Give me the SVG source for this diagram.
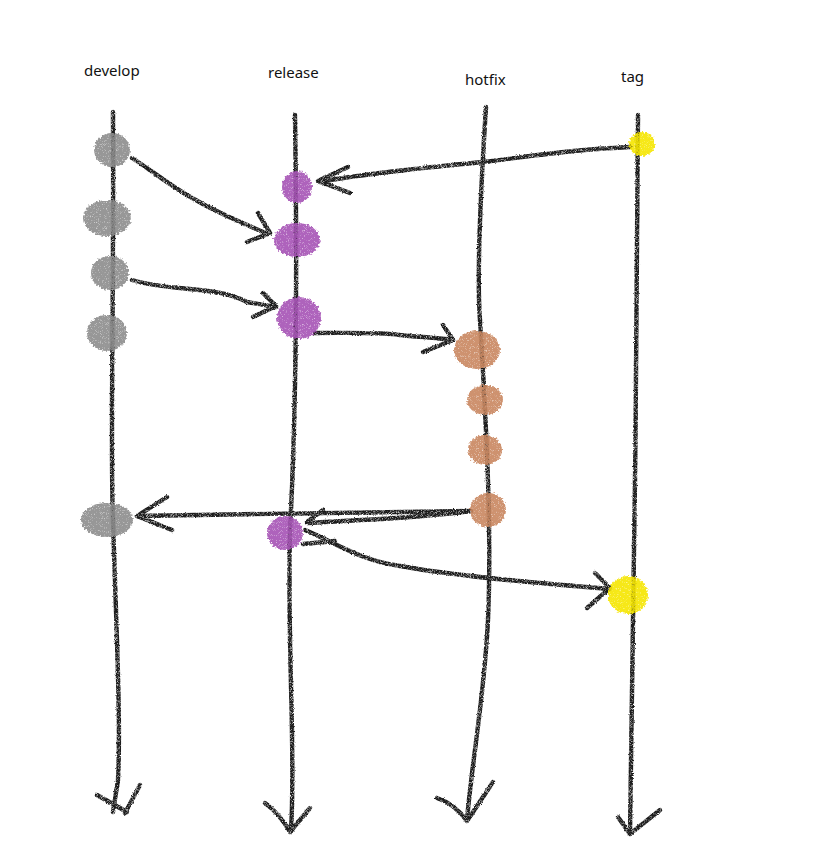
<svg xmlns="http://www.w3.org/2000/svg" width="828" height="863" viewBox="0 0 828 863">
<defs>
<filter id="crayon" filterUnits="userSpaceOnUse" x="0" y="0" width="828" height="863">
<feTurbulence type="fractalNoise" baseFrequency="1.1" numOctaves="1" seed="3" result="n"/>
<feDisplacementMap in="SourceGraphic" in2="n" scale="2.6" xChannelSelector="R" yChannelSelector="G" result="d"/>
<feTurbulence type="fractalNoise" baseFrequency="1.8" numOctaves="1" seed="5" result="g"/>
<feColorMatrix in="g" type="matrix" values="0 0 0 0 0  0 0 0 0 0  0 0 0 0 0  0 0 0 -2.4 2.1" result="ga"/>
<feComposite in="d" in2="ga" operator="in"/>
</filter>
<filter id="blob" filterUnits="userSpaceOnUse" x="0" y="0" width="828" height="863">
<feTurbulence type="fractalNoise" baseFrequency="0.5" numOctaves="2" seed="7" result="n"/>
<feDisplacementMap in="SourceGraphic" in2="n" scale="5" xChannelSelector="R" yChannelSelector="G" result="d"/>
<feTurbulence type="fractalNoise" baseFrequency="1.5" numOctaves="1" seed="11" result="g"/>
<feColorMatrix in="g" type="matrix" values="0 0 0 0 0  0 0 0 0 0  0 0 0 0 0  0 0 0 -2 2.1" result="ga"/>
<feComposite in="d" in2="ga" operator="in"/>
</filter>
</defs>
<style>
.lbl{font-family:"Noto Sans","Liberation Sans",sans-serif;font-size:15px;fill:#111}
.ln{fill:none;stroke:#1a1a1a;stroke-width:4.4;stroke-linecap:round;stroke-linejoin:round}
.node{opacity:0.9}
.dev{fill:#8c8c8c}
.rel{fill:#a652b5}
.hot{fill:#c98760}
.tag{fill:#f6e600}
</style>
<rect width="828" height="863" fill="#ffffff"/>
<g id="labels">
<text class="lbl" x="84" y="76">develop</text>
<text class="lbl" x="268" y="78">release</text>
<text class="lbl" x="465" y="85">hotfix</text>
<text class="lbl" x="621" y="82">tag</text>
</g>
<g id="connectors" filter="url(#crayon)">
<path class="ln" d="M113,112 C114,300 110,450 113,520 C116,620 121,720 118,780 L113,812"/>
<path class="ln" d="M97,795 L127,812 M140,785 L125,813"/>
<path class="ln" d="M295,115 C297,250 297,400 290,530 C287,650 296,750 291,831"/>
<path class="ln" d="M265,803 Q280,814 290,832 L310,808"/>
<path class="ln" d="M486,107 C480,200 477,280 480,320 C486,420 492,530 488,620 C484,700 472,760 467,820"/>
<path class="ln" d="M437,798 Q455,804 467,821 L493,782"/>
<path class="ln" d="M638,115 C637,350 634,600 630,833"/>
<path class="ln" d="M618,817 L630,834 L660,810"/>
<path class="ln" d="M132,158 C160,176 182,196 227,216 C245,224 258,230 268,234"/>
<path class="ln" d="M258,213 L270,233 L247,242"/>
<path class="ln" d="M132,280 C170,292 215,285 247,302 L276,307"/>
<path class="ln" d="M263,293 L276,306 L253,317"/>
<path class="ln" d="M630,147 C560,150 520,158 483,162 C420,168 360,174 320,182"/>
<path class="ln" d="M348,167 L318,181 L350,193"/>
<path class="ln" d="M315,333 C350,333 380,332 400,335 C420,337 440,338 453,340"/>
<path class="ln" d="M443,325 L453,340 L423,352"/>
<path class="ln" d="M471,511 C380,512 250,514 137,516"/>
<path class="ln" d="M167,497 L137,516 L172,530"/>
<path class="ln" d="M470,511 C420,518 360,520 307,523"/>
<path class="ln" d="M323,510 L307,522 M303,544 L335,541"/>
<path class="ln" d="M305,530 C340,545 360,560 400,566 C450,575 520,582 610,589"/>
<path class="ln" d="M595,573 L610,588 L587,608"/>
</g>
<g id="develop-1" class="node" filter="url(#blob)"><ellipse class="dev" cx="112" cy="150" rx="18" ry="17"/></g>
<g id="develop-2" class="node" filter="url(#blob)"><ellipse class="dev" cx="107" cy="218" rx="24" ry="18"/></g>
<g id="develop-3" class="node" filter="url(#blob)"><ellipse class="dev" cx="110" cy="273" rx="19" ry="17"/></g>
<g id="develop-4" class="node" filter="url(#blob)"><ellipse class="dev" cx="107" cy="333" rx="20" ry="18"/></g>
<g id="develop-5" class="node" filter="url(#blob)"><ellipse class="dev" cx="107" cy="520" rx="26" ry="17"/></g>
<g id="release-1" class="node" filter="url(#blob)"><ellipse class="rel" cx="297" cy="187" rx="15" ry="16"/></g>
<g id="release-2" class="node" filter="url(#blob)"><ellipse class="rel" cx="297" cy="240" rx="23" ry="17"/></g>
<g id="release-3" class="node" filter="url(#blob)"><ellipse class="rel" cx="299" cy="318" rx="22" ry="21"/></g>
<g id="release-4" class="node" filter="url(#blob)"><ellipse class="rel" cx="285" cy="533" rx="18" ry="17"/></g>
<g id="hotfix-1" class="node" filter="url(#blob)"><ellipse class="hot" cx="477" cy="350" rx="23" ry="19"/></g>
<g id="hotfix-2" class="node" filter="url(#blob)"><ellipse class="hot" cx="485" cy="400" rx="18" ry="15"/></g>
<g id="hotfix-3" class="node" filter="url(#blob)"><ellipse class="hot" cx="485" cy="450" rx="17" ry="15"/></g>
<g id="hotfix-4" class="node" filter="url(#blob)"><ellipse class="hot" cx="488" cy="510" rx="18" ry="17"/></g>
<g id="tag-1" class="node" filter="url(#blob)"><ellipse class="tag" cx="642" cy="144" rx="13" ry="12"/></g>
<g id="tag-2" class="node" filter="url(#blob)"><ellipse class="tag" cx="628" cy="595" rx="20" ry="19"/></g>
</svg>
